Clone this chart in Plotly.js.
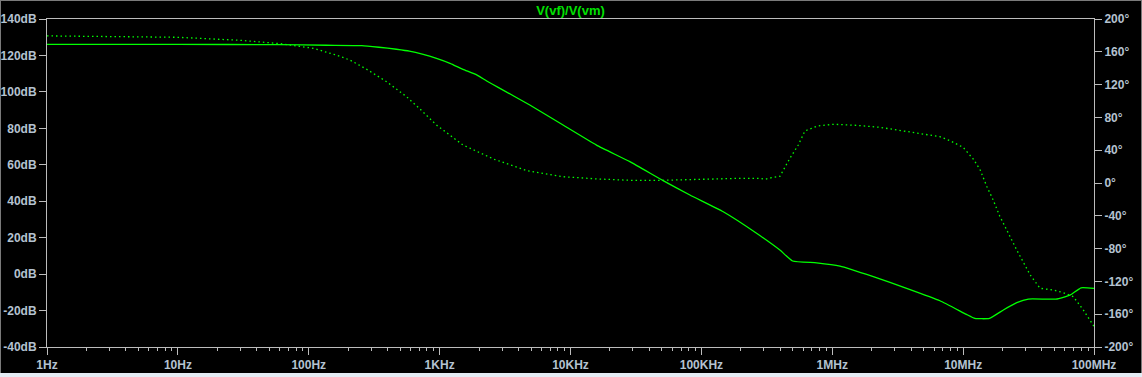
<!DOCTYPE html>
<html>
<head>
<meta charset="utf-8">
<script src="https://cdn.plot.ly/plotly-3.0.1.min.js"></script>
<style>
  html, body { margin: 0; padding: 0; background: #000; overflow: hidden; }
  #wrap { position: relative; width: 1142px; height: 377px; }
  #chart { width: 1142px; height: 377px; }
  .edge { position: absolute; pointer-events: none; }
</style>
</head>
<body>
<div id="wrap">
  <div id="chart"></div>
  <div class="edge" style="left:0;top:0;width:1142px;height:1px;background:#7a7a7a;"></div>
  <div class="edge" style="left:0;top:0;width:1px;height:373px;background:#7a7a7a;"></div>
  <div class="edge" style="left:1141px;top:0;width:1px;height:373px;background:#7a7a7a;"></div>
  <div class="edge" style="left:0;top:373px;width:1142px;height:4px;background:#e4ecf4;"></div>
</div>
<script>
// ---- data ----
const titleText = 'V(vf)/V(vm)';

const magFreq = [1, 10, 60, 136, 255, 344, 467, 587, 749, 946, 1200, 1510, 1920, 2290, 2800, 4886,
  8770, 15800, 28400, 51000, 81700, 147000, 264000, 398000, 498000, 760000, 1146000, 2060000,
  3700000, 6650000, 10600000, 12300000, 15900000, 20300000, 25700000, 31500000, 51300000,
  65600000, 79600000, 100000000];
const magDb = [126.1, 126.1, 125.9, 125.6, 125.4, 124.5, 123.4, 122.4, 120.6, 118.4, 115.7, 112.4, 109.3, 106.0, 102.5, 92.8,
  81.8, 70.8, 61.7, 51.3, 43.4, 34.2, 22.4, 13.2, 7.2, 6.2, 4.4, -1.4,
  -7.8, -14.6, -22.1, -24.3, -24.3, -19.7, -15.7, -13.7, -13.7,
  -11.5, -7.5, -7.8];

const phaseFreq = [1, 5, 10, 30, 60, 108, 162, 206, 275, 394, 559, 700, 840, 946, 1510, 2600, 4700,
  8770, 15800, 28400, 51000, 109600, 197000, 281000, 306000, 344000, 398000, 474000, 550000, 618000,
  768000, 1020000, 1540000, 2320000, 3300000, 4970000, 6650000, 7940000, 10000000, 12000000,
  13500000, 15200000, 17000000, 19000000, 25700000, 32500000, 38700000, 49000000, 58400000,
  69600000, 83000000, 100000000];
const phaseDeg = [179.4, 178.6, 177.7, 174.0, 170.0, 164.3, 156.0, 150.0, 139.0, 123.5, 105.2, 91.0, 79.0, 70.7, 46.3, 29.0, 14.8,
  7.7, 5.0, 3.3, 3.3, 5.0, 5.7, 5.7, 4.5, 6.5, 8.1, 30.0, 46.3, 63.4,
  69.5, 71.6, 70.3, 67.9, 63.8, 59.3, 56.5, 51.6, 43.5, 28.9,
  15.9, -4.5, -21.0, -40.0, -81.7, -112.0, -128.4, -130.5, -133.8,
  -138.7, -155.0, -175.0];

const xTickVals = [1, 10, 100, 1000, 10000, 100000, 1000000, 10000000, 100000000];
const xTickText = ['1Hz', '10Hz', '100Hz', '1KHz', '10KHz', '100KHz', '1MHz', '10MHz', '100MHz'];
const yTickVals = [-40, -20, 0, 20, 40, 60, 80, 100, 120, 140];
const yTickText = ['-40dB', '-20dB', '0dB', '20dB', '40dB', '60dB', '80dB', '100dB', '120dB', '140dB'];
const y2TickVals = [-200, -160, -120, -80, -40, 0, 40, 80, 120, 160, 200];
const y2TickText = ['-200°', '-160°', '-120°', '-80°', '-40°', '0°', '40°', '80°', '120°', '160°', '200°'];

// minor ticks at 2..9 of each decade
const xMinor = [];
for (let i = 0; i < xTickVals.length - 1; i++) {
  for (let k = 2; k <= 9; k++) xMinor.push(xTickVals[i] * k);
}

const green = '#00ff00';
const axisCol = '#bcbcbc';
const labelFont = { family: 'Liberation Sans, Arial, sans-serif', size: 12, color: '#b4c2d0', weight: 'bold' };

const traces = [
  {
    x: magFreq, y: magDb, type: 'scatter', mode: 'lines',
    line: { color: green, width: 1.3, shape: 'spline', smoothing: 0.4 }, xaxis: 'x', yaxis: 'y', hoverinfo: 'skip'
  },
  {
    x: phaseFreq, y: phaseDeg, type: 'scatter', mode: 'lines',
    line: { color: green, width: 1.3, dash: '1.5px,3px' }, xaxis: 'x', yaxis: 'y2', hoverinfo: 'skip'
  }
];

const layout = {
  width: 1142, height: 377,
  margin: { l: 47, r: 48, t: 19, b: 30 },
  paper_bgcolor: '#000000', plot_bgcolor: '#000000',
  showlegend: false,
  title: {
    text: titleText, x: 0.5, xref: 'paper', xanchor: 'center',
    y: 1 - 10 / 377, yref: 'container', yanchor: 'middle',
    font: { family: 'Liberation Sans, Arial, sans-serif', size: 13, color: '#00e000', weight: 'bold' }
  },
  xaxis: {
    type: 'log', range: [0, 8],
    tickmode: 'array', tickvals: xTickVals, ticktext: xTickText,
    ticks: 'outside', ticklen: 7, tickwidth: 1, tickcolor: axisCol,
    minor: { tickmode: 'array', tickvals: xMinor, ticks: 'outside', ticklen: 3, tickwidth: 1, tickcolor: axisCol, showgrid: false },
    showline: true, linecolor: axisCol, linewidth: 1, mirror: true,
    showgrid: false, zeroline: false, tickfont: labelFont, fixedrange: true
  },
  yaxis: {
    range: [-40, 140],
    tickmode: 'array', tickvals: yTickVals, ticktext: yTickText,
    ticks: 'outside', ticklen: 7, tickwidth: 1, tickcolor: axisCol,
    showline: true, linecolor: axisCol, linewidth: 1,
    showgrid: false, zeroline: false, tickfont: labelFont, fixedrange: true
  },
  yaxis2: {
    range: [-200, 200], overlaying: 'y', side: 'right',
    tickmode: 'array', tickvals: y2TickVals, ticktext: y2TickText,
    ticks: 'outside', ticklen: 7, tickwidth: 1, tickcolor: axisCol,
    showline: true, linecolor: axisCol, linewidth: 1,
    showgrid: false, zeroline: false, tickfont: labelFont, fixedrange: true
  }
};

Plotly.newPlot('chart', traces, layout, { staticPlot: true, displayModeBar: false });
</script>
</body>
</html>
